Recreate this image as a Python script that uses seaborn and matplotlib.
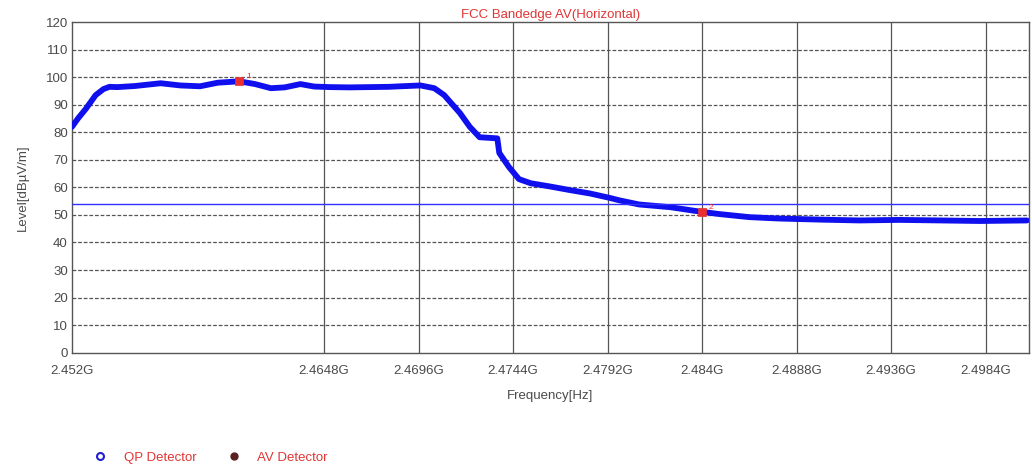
import matplotlib
matplotlib.use("Agg")
import matplotlib.pyplot as plt
from matplotlib.lines import Line2D
import seaborn as sns
import pandas as pd

# Measured trace (frequency in GHz, level in dBuV/m)
freq_ghz = [2.4520, 2.4523, 2.4527, 2.4532, 2.4536, 2.4539, 2.4543, 2.4552,
            2.4565, 2.4575, 2.4585, 2.4594, 2.4605, 2.4613, 2.4621, 2.4628,
            2.4636, 2.4643, 2.4651, 2.4661, 2.4671, 2.4681, 2.4687, 2.4697,
            2.4704, 2.4709, 2.4717, 2.4722, 2.4727, 2.4736, 2.4737, 2.4742,
            2.4747, 2.4753, 2.4763, 2.4773, 2.4783, 2.4793, 2.4798, 2.4808,
            2.4824, 2.4839, 2.4849, 2.4864, 2.4879, 2.4900, 2.4920, 2.4940,
            2.4961, 2.4981, 2.5005]
level_dbuv = [82.0, 85.0, 88.5, 93.5, 95.7, 96.5, 96.4, 96.8,
              97.8, 97.0, 96.7, 98.0, 98.5, 97.5, 96.0, 96.3,
              97.5, 96.6, 96.4, 96.3, 96.4, 96.5, 96.7, 97.0,
              96.0, 93.5, 87.0, 82.0, 78.2, 77.8, 72.5, 67.3,
              63.0, 61.5, 60.3, 59.0, 57.8, 56.2, 55.3, 53.8,
              52.8, 51.2, 50.3, 49.2, 48.7, 48.3, 48.0, 48.2,
              48.0, 47.8, 48.0]

# Marker readings
marker_ids = ["1", "2"]
marker_freq = [2.4605, 2.4840]
marker_level = [98.5, 51.0]

# AV limit line
limit_level = 54.0

# Axis ticks
x_ticks = [2.452, 2.4648, 2.4696, 2.4744, 2.4792, 2.484, 2.4888, 2.4936, 2.4984]
x_tick_labels = ["2.452G", "2.4648G", "2.4696G", "2.4744G", "2.4792G",
                 "2.484G", "2.4888G", "2.4936G", "2.4984G"]
y_ticks = list(range(0, 121, 10))

sns.set_theme(style="white")
plt.rcParams["font.family"] = ["Liberation Sans", "DejaVu Sans"]

TXT = "#4a4a4a"
RED = "#e03535"
FS = 9.5

fig = plt.figure(figsize=(10.32, 4.70), dpi=100)
ax = fig.add_axes([0.0698, 0.2496, 0.9272, 0.7034])

df = pd.DataFrame({"freq": freq_ghz, "level": level_dbuv})
sns.lineplot(data=df, x="freq", y="level", ax=ax, color="#1010ee",
             linewidth=4.2, sort=False, estimator=None, zorder=3)

ax.axhline(limit_level, color="#3030ff", linewidth=1.0, zorder=4)

# Markers
mk = pd.DataFrame({"freq": marker_freq, "level": marker_level})
sns.scatterplot(data=mk, x="freq", y="level", ax=ax, marker="s", s=40,
                color="#e83030", edgecolor="#e83030", zorder=5)
for mid, mf, ml in zip(marker_ids, marker_freq, marker_level):
    ax.text(mf + 0.00035, ml + 1.2, mid, color="#e83030", fontsize=6, zorder=6)

ax.set_xlim(2.452, 2.5006)
ax.set_ylim(0, 120)
ax.set_xticks(x_ticks)
ax.set_xticklabels(x_tick_labels)
ax.set_yticks(y_ticks)
ax.tick_params(axis="both", labelsize=FS, colors=TXT, length=0)
ax.tick_params(axis="x", pad=9)
ax.tick_params(axis="y", pad=3)

# Grid: solid verticals, dashed horizontals
for xt in x_ticks[1:]:
    ax.axvline(xt, color="#555555", linewidth=0.9, zorder=1)
for yt in y_ticks[1:-1]:
    ax.axhline(yt, color="#555555", linewidth=0.9, linestyle=(0, (3, 1.5)), zorder=1)

for sp in ax.spines.values():
    sp.set_color("#555555")
    sp.set_linewidth(1.0)

ax.set_xlabel("Frequency[Hz]", fontsize=FS, color=TXT, labelpad=9)
ax.set_ylabel("Level[dB\u00b5V/m]", fontsize=FS, color=TXT, labelpad=12)
ax.set_title("FCC Bandedge AV(Horizontal)", fontsize=FS, color=RED, pad=3)

handles = [
    Line2D([], [], linestyle="none", marker="o", markersize=5,
           markerfacecolor="none", markeredgecolor="#2020cc", markeredgewidth=1.5),
    Line2D([], [], linestyle="none", marker="o", markersize=5,
           markerfacecolor="#5a2020", markeredgecolor="#5a2020"),
]
leg = fig.legend(handles, ["QP Detector", "AV Detector"], loc="center left",
                 bbox_to_anchor=(0.073, 0.026), ncol=2, frameon=False,
                 fontsize=FS, handletextpad=0.8, columnspacing=1.8)
for t in leg.get_texts():
    t.set_color(RED)

fig.savefig("out.png", dpi=100)
